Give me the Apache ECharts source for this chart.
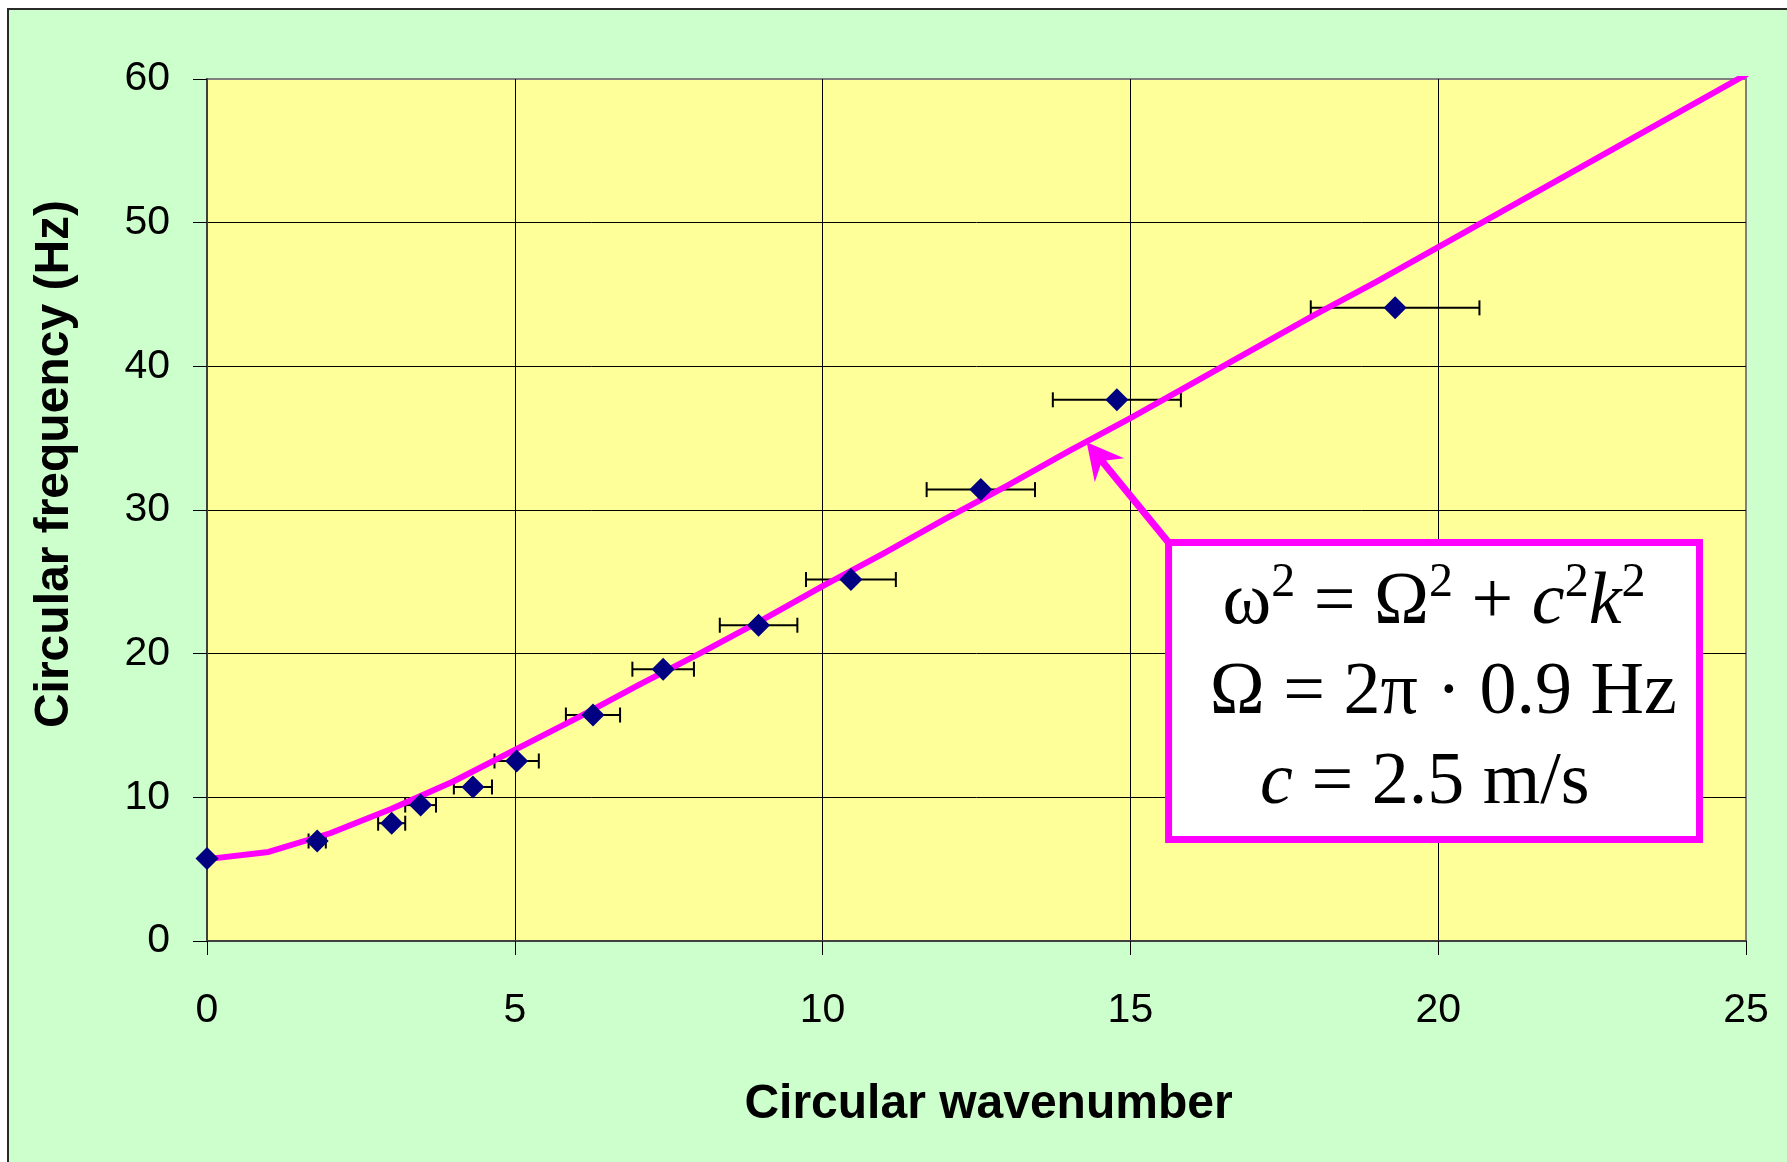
<!DOCTYPE html>
<html>
<head>
<meta charset="utf-8">
<script src="https://cdn.jsdelivr.net/npm/echarts@6/dist/echarts.min.js"></script>
<style>
  html, body { margin: 0; padding: 0; background: #ffffff; width: 1787px; height: 1162px; overflow: hidden; }
  #panel { position: absolute; left: 7px; top: 8px; right: 0; bottom: 0; background: #CCFFCC;
           border-left: 2px solid #2a2a2a; border-top: 2px solid #2a2a2a; }
  #chart { position: absolute; left: 0; top: 0; width: 1787px; height: 1162px; }
</style>
</head>
<body>
<div id="panel"></div>
<div id="chart"></div>
<script>
// Measured circular wavenumber k, circular frequency ω, and the uncertainty in k
const waveNumber      = [0, 1.79, 3.00, 3.47, 4.32, 5.03, 6.27, 7.41, 8.96, 10.46, 12.57, 14.78, 19.30];
const frequency       = [5.75, 6.96, 8.20, 9.46, 10.72, 12.53, 15.73, 18.92, 21.98, 25.16, 31.42, 37.67, 44.07];
const waveNumberError = [0, 0.14, 0.22, 0.25, 0.31, 0.36, 0.44, 0.50, 0.63, 0.73, 0.88, 1.04, 1.37];

// Dispersion curve, sampled at whole wavenumbers
const curveK     = [0, 1, 2, 3, 4, 5, 6, 7, 8, 9, 10, 11, 12, 13, 14, 15, 16, 17, 18, 19, 20, 21, 22, 23, 24, 25];
const curveOmega = [5.7, 6.2, 7.5, 9.2, 11.1, 13.3, 15.5, 17.8, 20.0, 22.3, 24.7, 27.0, 29.4, 31.7, 34.1,
                    36.4, 38.8, 41.2, 43.6, 45.9, 48.3, 50.7, 53.1, 55.5, 57.9, 60.3];

// Axis ticks
const xTicks = [0, 5, 10, 15, 20, 25];
const yTicks = [0, 10, 20, 30, 40, 50, 60];

// Callout text
const calloutLines = [
  'ω{s|2} = Ω{s|2} + {i|c}{s|2}{i|k}{s|2}',
  ' Ω = 2π · 0.9 Hz',
  '{i|c} = 2.5 m/s '
];

const SANS = "'Liberation Sans', Arial, Helvetica, sans-serif";
const SERIF = "'Liberation Serif', 'Times New Roman', serif";

const chart = echarts.init(document.getElementById('chart'), null, { renderer: 'canvas' });

const axisLineStyle = { color: '#404040', width: 2 };
const gridLineStyle = { color: '#000000', width: 1 };

chart.setOption({
  animation: false,
  backgroundColor: 'transparent',
  grid: {
    left: 207, top: 79, right: 41, bottom: 221,
    show: true, backgroundColor: '#FFFF99', borderColor: '#808080', borderWidth: 2
  },
  xAxis: {
    type: 'value',
    min: xTicks[0], max: xTicks[xTicks.length - 1], interval: xTicks[1] - xTicks[0],
    name: 'Circular wavenumber',
    nameLocation: 'middle', nameGap: 140,
    nameTextStyle: { fontFamily: SANS, fontSize: 48, fontWeight: 'bold', color: '#000', padding: [0, 0, 0, 24] },
    axisLine: { show: true, onZero: false, lineStyle: axisLineStyle },
    axisTick: { show: true, inside: false, length: 14, lineStyle: { color: '#000', width: 1 } },
    axisLabel: { fontFamily: SANS, fontSize: 41, color: '#000', margin: 49 },
    splitLine: { show: true, showMinLine: false, showMaxLine: false, lineStyle: gridLineStyle }
  },
  yAxis: {
    type: 'value',
    min: yTicks[0], max: yTicks[yTicks.length - 1], interval: yTicks[1] - yTicks[0],
    name: 'Circular frequency (Hz)',
    nameLocation: 'middle', nameGap: 128,
    nameTextStyle: { fontFamily: SANS, fontSize: 48, fontWeight: 'bold', color: '#000', padding: [0, 0, 0, 92] },
    axisLine: { show: true, onZero: false, lineStyle: axisLineStyle },
    axisTick: { show: true, inside: false, length: 14, lineStyle: { color: '#000', width: 1 } },
    axisLabel: { fontFamily: SANS, fontSize: 41, color: '#000', margin: 37 },
    splitLine: { show: true, showMinLine: false, showMaxLine: false, lineStyle: gridLineStyle }
  },
  series: [
    {
      // horizontal error bars on k
      type: 'custom',
      z: 2,
      silent: true,
      encode: { x: 0, y: 1 },
      data: waveNumber.map((k, i) => [k, frequency[i], waveNumberError[i]]),
      renderItem: function (params, api) {
        const k = api.value(0), w = api.value(1), e = api.value(2);
        if (!e) return { type: 'group', children: [] };
        const a = api.coord([k - e, w]);
        const b = api.coord([k + e, w]);
        const cap = 7.5;
        const st = { stroke: '#000', lineWidth: 2 };
        return {
          type: 'group',
          children: [
            { type: 'line', shape: { x1: a[0], y1: a[1], x2: b[0], y2: b[1] }, style: st },
            { type: 'line', shape: { x1: a[0], y1: a[1] - cap, x2: a[0], y2: a[1] + cap }, style: st },
            { type: 'line', shape: { x1: b[0], y1: b[1] - cap, x2: b[0], y2: b[1] + cap }, style: st }
          ]
        };
      }
    },
    {
      // fitted dispersion relation
      type: 'line',
      z: 3,
      data: curveK.map((k, i) => [k, curveOmega[i]]),
      showSymbol: false,
      symbol: 'none',
      smooth: false,
      lineStyle: { color: '#FF00FF', width: 6, cap: 'round', join: 'round' }
    },
    {
      // measurements
      type: 'scatter',
      z: 4,
      data: waveNumber.map((k, i) => [k, frequency[i]]),
      symbol: 'diamond',
      symbolSize: [23, 23],
      itemStyle: { color: '#000080', opacity: 1 }
    }
  ]
});

// Callout: box and arrow placed in data units, converted through the grid
const calloutBox = { k0: 15.62, k1: 24.245, w0: 27.74, w1: 7.06 };
const arrowTip = [14.29, 34.71];

function px(k, w) { return chart.convertToPixel({ gridIndex: 0 }, [k, w]); }

const tl = px(calloutBox.k0, calloutBox.w0);
const br = px(calloutBox.k1, calloutBox.w1);
const tip = px(arrowTip[0], arrowTip[1]);

// arrow head geometry
const dx = tip[0] - tl[0], dy = tip[1] - tl[1];
const len = Math.hypot(dx, dy);
const ux = dx / len, uy = dy / len;        // toward tip
const nx = -uy, ny = ux;                   // normal
const headLen = 36, headHalf = 19, notch = 24;
const barbA = [tip[0] - ux * headLen + nx * headHalf, tip[1] - uy * headLen + ny * headHalf];
const barbB = [tip[0] - ux * headLen - nx * headHalf, tip[1] - uy * headLen - ny * headHalf];
const notchPt = [tip[0] - ux * notch, tip[1] - uy * notch];

chart.setOption({
  graphic: [
    {
      type: 'line', z: 100,
      shape: { x1: tl[0], y1: tl[1], x2: notchPt[0], y2: notchPt[1] },
      style: { stroke: '#FF00FF', lineWidth: 7 }
    },
    {
      type: 'polygon', z: 100,
      shape: { points: [tip, barbA, notchPt, barbB] },
      style: { fill: '#FF00FF' }
    },
    {
      type: 'rect', z: 101,
      shape: { x: tl[0], y: tl[1], width: br[0] - tl[0], height: br[1] - tl[1] },
      style: { fill: '#FFFFFF', stroke: '#FF00FF', lineWidth: 7 }
    },
    {
      type: 'text', z: 102,
      x: (tl[0] + br[0]) / 2,
      y: (tl[1] + br[1]) / 2 + 3,
      style: {
        text: calloutLines.join('\n'),
        align: 'center',
        verticalAlign: 'middle',
        fontFamily: SERIF,
        fontSize: 74,
        lineHeight: 90,
        fill: '#000',
        rich: {
          s: { fontFamily: SERIF, fontSize: 48, lineHeight: 58, verticalAlign: 'top', fill: '#000' },
          i: { fontFamily: SERIF, fontSize: 74, lineHeight: 90, fontStyle: 'italic', fill: '#000' }
        }
      }
    }
  ]
});
</script>
</body>
</html>
